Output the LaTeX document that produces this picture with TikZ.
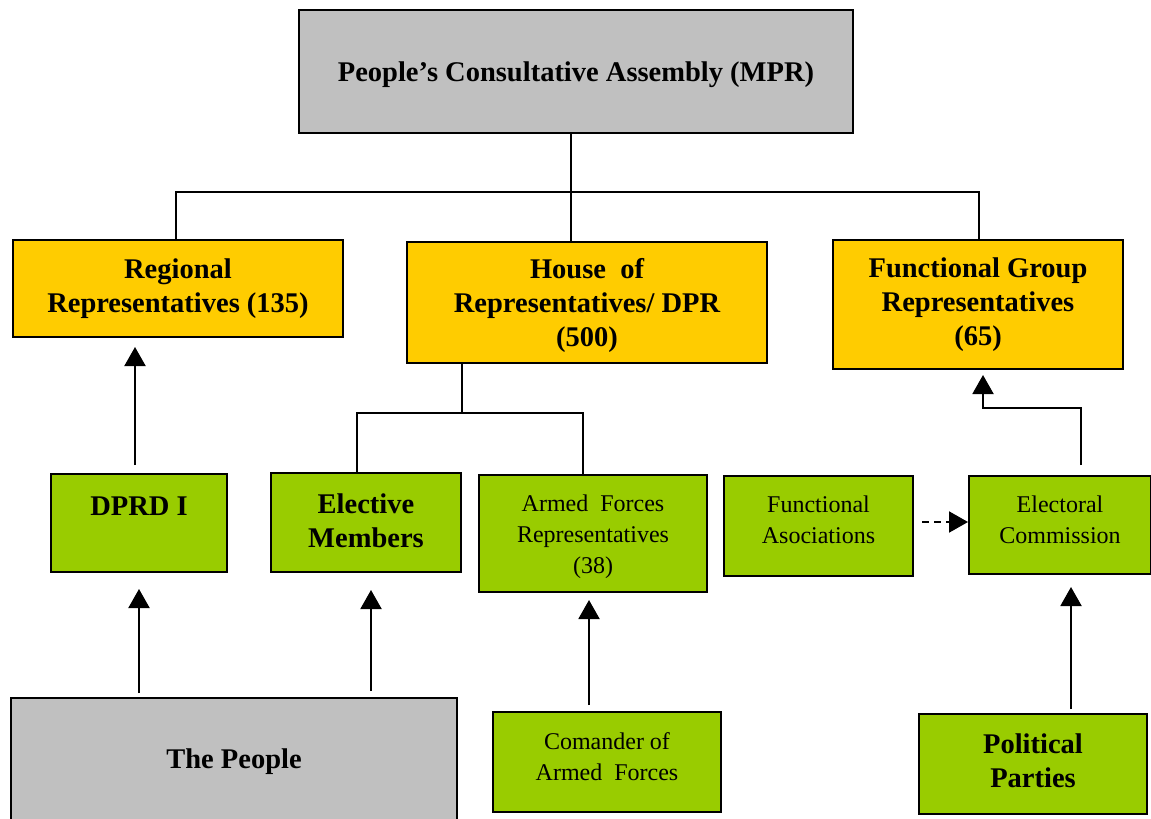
\documentclass[tikz,border=0pt]{standalone}
\usepackage{fontspec}
\setmainfont{Liberation Serif}
\usetikzlibrary{arrows.meta,calc}
\definecolor{boxgray}{HTML}{C0C0C0}
\definecolor{boxyellow}{HTML}{FFCC00}
\definecolor{boxgreen}{HTML}{99CC00}
\begin{document}
\begin{tikzpicture}[x=1pt,y=-1pt,
  base/.style={draw=black,line width=2pt,inner sep=0pt,anchor=north west,align=center},
  graybox/.style={base,fill=boxgray},
  yellowbox/.style={base,fill=boxyellow},
  greenbox/.style={base,fill=boxgreen},
  bigtxt/.style={font=\fontsize{28.5}{34}\selectfont\bfseries,align=center,inner sep=0pt},
  smalltxt/.style={font=\fontsize{24}{31}\selectfont,align=center,inner sep=0pt},
  link/.style={line width=2pt},
  arr/.style={line width=2pt,-{Triangle[width=21pt,length=19pt]}}]
\useasboundingbox (0,0) rectangle (1151,819);
% boxes
\node[graybox,minimum width=554pt,minimum height=123pt] (mpr) at (298,9) {};
\node[yellowbox,minimum width=330pt,minimum height=97pt] (reg) at (12,239) {};
\node[yellowbox,minimum width=360pt,minimum height=121pt] (dpr) at (406,241) {};
\node[yellowbox,minimum width=290pt,minimum height=129pt] (fg) at (832,239) {};
\node[greenbox,minimum width=176pt,minimum height=98pt] (dprd) at (50,473) {};
\node[greenbox,minimum width=190pt,minimum height=99pt] (elec) at (270,472) {};
\node[greenbox,minimum width=228pt,minimum height=117pt] (armed) at (478,474) {};
\node[greenbox,minimum width=189pt,minimum height=100pt] (fa) at (723,475) {};
\node[greenbox,minimum width=182pt,minimum height=98pt] (ecom) at (968,475) {};
\node[graybox,minimum width=446pt,minimum height=140pt] (people) at (10,697) {};
\node[greenbox,minimum width=228pt,minimum height=100pt] (cmdr) at (492,711) {};
\node[greenbox,minimum width=228pt,minimum height=100pt] (party) at (918,713) {};
% texts
\node[bigtxt] (mpr-t) at ($(mpr.center)+(0,3)$) {People’s Consultative Assembly (MPR)};
\node[bigtxt] (reg-t) at ($(reg.center)+(0,0)$) {Regional\\Representatives (135)};
\node[bigtxt] (dpr-t) at ($(dpr.center)+(0,3)$) {House\ \ of\\Representatives/ DPR\\(500)};
\node[bigtxt] (fg-t) at ($(fg.center)+(0,0)$) {Functional Group\\Representatives\\(65)};
\node[bigtxt] (dprd-t) at ($(dprd.center)+(0,-17)$) {DPRD I};
\node[bigtxt] (elec-t) at ($(elec.center)+(0,-2)$) {Elective\\Members};
\node[smalltxt] (armed-t) at ($(armed.center)+(0,3)$) {Armed\ \ Forces\\Representatives\\(38)};
\node[smalltxt] (fa-t) at ($(fa.center)+(0,-6)$) {Functional\\Asociations};
\node[smalltxt] (ecom-t) at ($(ecom.center)+(0,-5)$) {Electoral\\Commission};
\node[bigtxt] (people-t) at (people.center |- 0,762) {The People};
\node[smalltxt] (cmdr-t) at ($(cmdr.center)+(0,-5)$) {Comander of\\Armed\ \ Forces};
\node[bigtxt] (party-t) at ($(party.center)+(0,-3)$) {Political\\Parties};
% tree from MPR
\coordinate (j1) at ($(mpr.south)+(-5,58)$);
\draw[link] ($(mpr.south)+(-5,0)$) -- (j1 |- dpr.north);
\draw[link] ($(reg.north)+(-2,0)$) -- ($(reg.north |- j1)+(-2,0)$) -- ($(fg.north |- j1)+(1,0)$) -- ($(fg.north)+(1,0)$);
% tree from DPR
\coordinate (d1) at ($(dpr.south west)+(56,49)$);
\draw[link] (d1 |- dpr.south) -- (d1);
\draw[link] ($(elec.north)+(-9,0)$) -- ($(elec.north |- d1)+(-9,0)$) -- ($(armed.north |- d1)+(-10,0)$) -- ($(armed.north)+(-10,0)$);
% arrows
\draw[arr] ($(dprd.north)+(-4,-8)$) -- ($(dprd.north |- reg.south)+(-4,9)$);
\draw[arr] ($(dprd.south |- people.north)+(0,-4)$) -- ($(dprd.south)+(0,16)$);
\draw[arr] ($(elec.south |- people.north)+(5,-6)$) -- ($(elec.south)+(5,17)$);
\draw[arr] ($(armed.south |- cmdr.north)+(-4,-6)$) -- ($(armed.south)+(-4,7)$);
\draw[arr] ($(ecom.south |- party.north)+(11,-4)$) -- ($(ecom.south)+(11,12)$);
\coordinate (e1) at ($(ecom.north)+(21,-10)$);
\coordinate (e2) at ($(fg.south)+(5,38)$);
\draw[arr] (e1) |- (e2) -- ($(fg.south)+(5,5)$);
\draw[arr,dashed,dash pattern=on 7pt off 5pt] ($(fa.east)+(8,-4)$) -- ($(ecom.west |- fa.east)+(0,-4)$);
\end{tikzpicture}
\end{document}
